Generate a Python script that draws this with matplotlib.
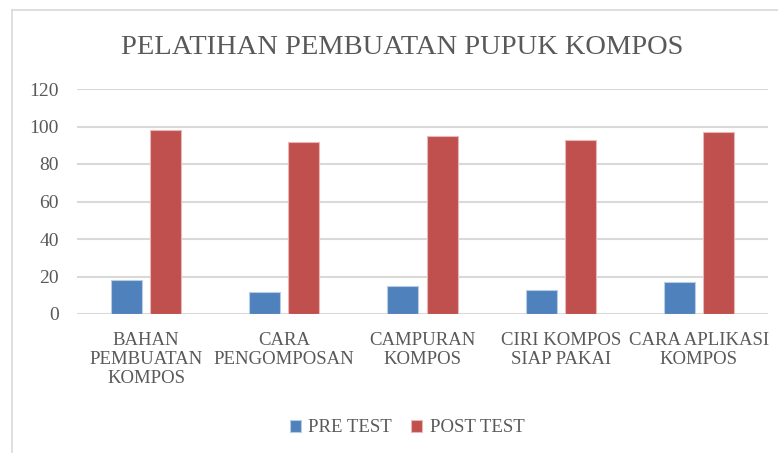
import matplotlib
matplotlib.use("Agg")
import matplotlib.pyplot as plt
import numpy as np
from matplotlib.lines import Line2D

categories = ["BAHAN\nPEMBUATAN\nKOMPOS", "CARA\nPENGOMPOSAN", "CAMPURAN\nKOMPOS",
              "CIRI KOMPOS\nSIAP PAKAI", "CARA APLIKASI\nKOMPOS"]
pre_test = [18, 12, 15, 13, 17]
post_test = [98, 92, 95, 93, 97]
series_names = ["PRE TEST", "POST TEST"]
yticks = [0, 20, 40, 60, 80, 100, 120]
title = "PELATIHAN PEMBUATAN PUPUK KOMPOS"

FONT = "Liberation Serif"
TXT = "#595959"
plt.rcParams["font.family"] = [FONT, "DejaVu Serif"]

fig = plt.figure(figsize=(7.78, 4.53), dpi=100)
ax = fig.add_axes([77/778, 1-314/453, (768-77)/778, (314-89)/453])

x = np.arange(len(categories))
w = 0.224
off = 0.142
ax.bar(x - off, pre_test, w, color="#4F81BD", edgecolor="#B8CCE4", linewidth=0.8,
       label=series_names[0], zorder=3)
ax.bar(x + off, post_test, w, color="#C0504D", edgecolor="#E6B9B8", linewidth=0.8,
       label=series_names[1], zorder=3)

ax.set_xlim(-0.5, len(categories) - 0.5)
ax.set_ylim(0, 120)
ax.set_yticks(yticks)
ax.set_yticklabels([str(v) for v in yticks], fontsize=14, color=TXT)
ax.set_xticks(x)
ax.set_xticklabels(categories, fontsize=13.5, color=TXT, linespacing=1.15)
ax.tick_params(axis="both", length=0)
ax.tick_params(axis="y", pad=13)
ax.tick_params(axis="x", pad=13)
ax.grid(axis="y", color="#D9D9D9", linewidth=1.5, zorder=0)
for s in ax.spines.values():
    s.set_visible(False)

fig.text(402/778, 1-47/453, title, ha="center", va="center", fontsize=20.5, color=TXT)

leg = fig.legend(loc="center", bbox_to_anchor=(407/778, 1-428/453), ncol=2, frameon=False,
                 fontsize=13.5, handlelength=0.6, handleheight=0.6, handletextpad=0.4,
                 columnspacing=1.0)
for t in leg.get_texts():
    t.set_color(TXT)

fig.add_artist(Line2D([12/778, 12/778], [0, 1-10/453], transform=fig.transFigure,
                      color="#D9D9D9", linewidth=1.2))
fig.add_artist(Line2D([12/778, 1], [1-10/453, 1-10/453], transform=fig.transFigure,
                      color="#D9D9D9", linewidth=1.2))

fig.savefig("out.png", dpi=100, facecolor="white")
